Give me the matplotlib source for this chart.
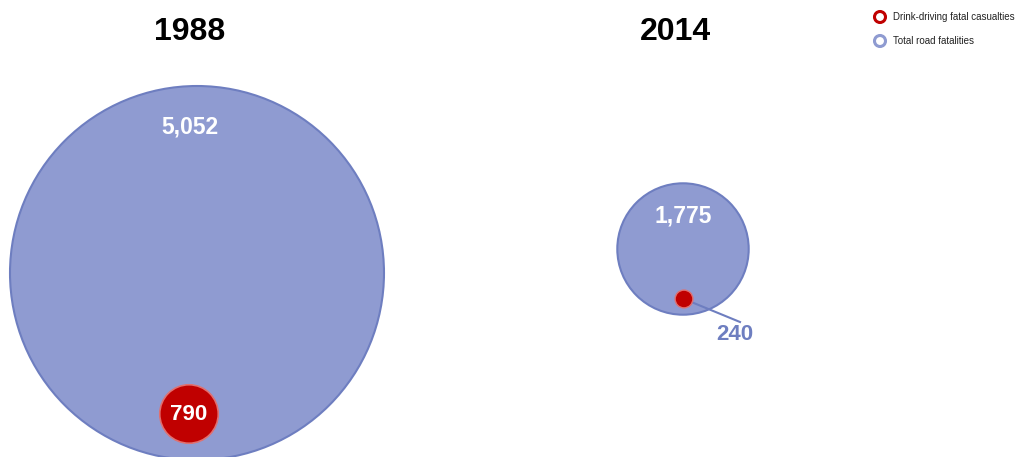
import matplotlib
matplotlib.use("Agg")
import matplotlib.pyplot as plt
from matplotlib.patches import Circle

plt.rcParams["font.family"] = ["Liberation Sans", "DejaVu Sans"]

years = ["1988", "2014"]
total_fatalities = [5052, 1775]
drink_drive = [790, 240]
series_labels = ["Drink-driving fatal casualties", "Total road fatalities"]

BLUE = "#8f9bd1"
BLUE_EDGE = "#6e7ec0"
RED = "#c00000"

# layout in pixel space (y downwards)
px_per_unit = 187 / 5052          # radius proportional to value
centers = [(197, 273), (683, 249)]
title_x = [190, 675]
total_label_pos = [(190, 127), (683, 216)]
red_centers = [(189, 414), (684, 299)]

fig = plt.figure(figsize=(10.31, 4.57), dpi=100)
ax = fig.add_axes([0, 0, 1, 1])
ax.set_xlim(0, 1031)
ax.set_ylim(457, 0)
ax.set_aspect("equal")
ax.axis("off")

for i, yr in enumerate(years):
    cx, cy = centers[i]
    r = total_fatalities[i] * px_per_unit
    ax.add_patch(Circle((cx, cy), r, facecolor=BLUE, edgecolor=BLUE_EDGE, lw=1.5))
    ax.text(title_x[i], 32, yr, ha="center", va="center", fontsize=23, fontweight="bold", color="black")
    lx, ly = total_label_pos[i]
    ax.text(lx, ly, f"{total_fatalities[i]:,}", ha="center", va="center",
            fontsize=16.5, fontweight="bold", color="white")

    rx, ry = red_centers[i]
    rr = drink_drive[i] * px_per_unit
    if i == 0:
        ax.add_patch(Circle((rx, ry), rr, facecolor=RED, edgecolor="#e07070", lw=1.2))
        ax.text(rx, ry + 1, f"{drink_drive[i]:,}", ha="center", va="center",
                fontsize=16, fontweight="bold", color="white")
    else:
        ax.plot([rx, 740], [ry, 322], color=BLUE_EDGE, lw=1.5, zorder=2)
        ax.add_patch(Circle((rx, ry), max(rr, 6.5), facecolor=RED, edgecolor="#e07070", lw=1.0, zorder=3))
        ax.text(735, 334, f"{drink_drive[i]:,}", ha="center", va="center",
                fontsize=16, fontweight="bold", color=BLUE_EDGE)

# legend
leg_colors = [RED, BLUE]
for j, lab in enumerate(series_labels):
    y = 17 + j * 24
    ax.add_patch(Circle((880, y), 5.5, facecolor="white", edgecolor=leg_colors[j], lw=2.2))
    ax.text(893, y, lab, ha="left", va="center", fontsize=7, color="#222222")

fig.savefig("out.png", dpi=100, facecolor="white")
